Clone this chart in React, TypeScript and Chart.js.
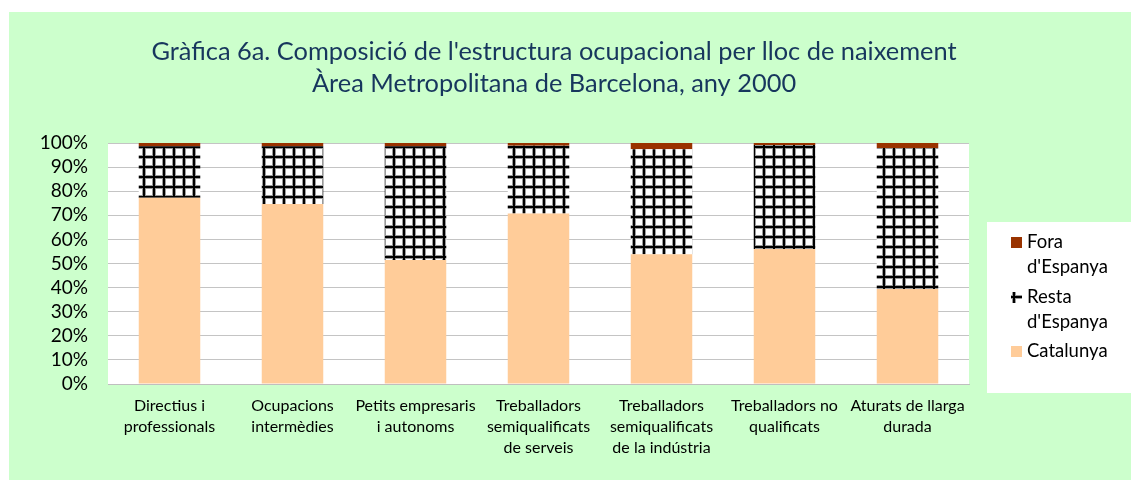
import React, { useEffect, useRef } from "react";
import { Chart, registerables } from "chart.js";

Chart.register(...registerables);

const categories: (string | string[])[] = [
  ["Directius i", "professionals"],
  ["Ocupacions", "intermèdies"],
  ["Petits empresaris", "i autonoms"],
  ["Treballadors", "semiqualificats", "de serveis"],
  ["Treballadors", "semiqualificats", "de la indústria"],
  ["Treballadors no", "qualificats"],
  ["Aturats de llarga", "durada"],
];
const catalunya = [77.3, 74.7, 51.5, 70.7, 53.8, 56.0, 39.4];
const restaEspanya = [21.3, 23.9, 47.1, 28.2, 43.6, 43.2, 58.5];
const foraEspanya = [1.4, 1.4, 1.4, 1.1, 2.6, 0.8, 2.1];
const titleLines = [
  "Gràfica 6a. Composició de l'estructura ocupacional per lloc de naixement",
  "Àrea Metropolitana de Barcelona, any 2000",
];
const legendItems = [
  { lines: ["Fora", "d'Espanya"], key: "fora" },
  { lines: ["Resta", "d'Espanya"], key: "resta" },
  { lines: ["Catalunya"], key: "cat" },
];

const FONT = "Lato, 'Open Sans', sans-serif";
const GREEN = "#CCFFCC";
const PEACH = "#FFCC99";
const BROWN = "#993300";
const TITLE_COLOR = "#17365D";

function makeGridPattern(): CanvasPattern | string {
  const c = document.createElement("canvas");
  c.width = 10;
  c.height = 10;
  const g = c.getContext("2d");
  if (!g) return "#000";
  g.fillStyle = "#ffffff";
  g.fillRect(0, 0, 10, 10);
  g.fillStyle = "#9a9a9a";
  g.fillRect(3, 0, 4, 10);
  g.fillRect(0, 3, 10, 4);
  g.fillStyle = "#000000";
  g.fillRect(4, 0, 2, 10);
  g.fillRect(0, 4, 10, 2);
  const p = document.createElement("canvas").getContext("2d")!.createPattern(c, "repeat");
  return p || "#000";
}

export default function App() {
  const ref = useRef<HTMLCanvasElement | null>(null);

  useEffect(() => {
    if (!ref.current) return;
    const pattern = makeGridPattern();

    const decor = {
      id: "decor",
      beforeDraw(chart: any) {
        const ctx = chart.ctx;
        const a = chart.chartArea;
        ctx.save();
        ctx.fillStyle = GREEN;
        ctx.fillRect(0, 0, chart.width, chart.height);
        ctx.fillStyle = "#ffffff";
        ctx.fillRect(a.left, a.top, a.right - a.left, a.bottom - a.top);
        ctx.restore();
      },
      afterDraw(chart: any) {
        const ctx = chart.ctx;
        ctx.save();
        ctx.fillStyle = TITLE_COLOR;
        ctx.font = `25.4px ${FONT}`;
        ctx.textAlign = "center";
        ctx.textBaseline = "middle";
        ctx.fillText(titleLines[0], 545, 40);
        ctx.fillText(titleLines[1], 545, 72);
        ctx.fillStyle = "#ffffff";
        ctx.fillRect(978, 210, 144, 171);
        ctx.font = `18.5px ${FONT}`;
        ctx.textAlign = "left";
        const starts = [230, 285, 339];
        legendItems.forEach((it, i) => {
          const y0 = starts[i];
          const sw = it.key === "fora" ? BROWN : it.key === "cat" ? PEACH : pattern;
          ctx.fillStyle = sw as any;
          ctx.fillRect(1002, y0 - 5, 11, 11);
          ctx.fillStyle = "#000000";
          it.lines.forEach((ln, j) => ctx.fillText(ln, 1018, y0 + j * 25));
        });
        ctx.restore();
      },
    };

    const chart = new Chart(ref.current, {
      type: "bar",
      data: {
        labels: categories,
        datasets: [
          { label: "Catalunya", data: catalunya, backgroundColor: PEACH, borderWidth: 0 },
          { label: "Resta d'Espanya", data: restaEspanya, backgroundColor: pattern as any, borderWidth: 0 },
          { label: "Fora d'Espanya", data: foraEspanya, backgroundColor: BROWN, borderWidth: 0 },
        ],
      },
      options: {
        animation: false,
        responsive: false,
        layout: { padding: { left: 0, top: 131, right: 162, bottom: 0 } },
        plugins: { legend: { display: false }, title: { display: false }, tooltip: { enabled: false } },
        datasets: { bar: { barPercentage: 1, categoryPercentage: 0.5 } },
        scales: {
          x: {
            stacked: true,
            grid: { display: false, drawTicks: false },
            border: { display: true, color: "#BFBFBF" },
            ticks: {
              autoSkip: false,
              maxRotation: 0,
              minRotation: 0,
              padding: 12,
              color: "#000000",
              font: { family: FONT, size: 16, lineHeight: 1.29 },
            },
            afterFit: (s: any) => {
              s.height = 96;
            },
          },
          y: {
            stacked: true,
            min: 0,
            max: 100,
            grid: { color: "#C4C4C4", lineWidth: 1, drawTicks: false },
            border: { display: false },
            ticks: {
              autoSkip: false,
              stepSize: 10,
              padding: 20,
              color: "#000000",
              font: { family: FONT, size: 19 },
              callback: (v: any) => `${v}%`,
            },
            afterFit: (s: any) => {
              s.width = 99;
            },
          },
        },
      },
      plugins: [decor],
    });
    return () => chart.destroy();
  }, []);

  return (
    <div style={{ position: "fixed", left: 9, top: 12, width: 1122, height: 468, background: GREEN }}>
      <canvas ref={ref} width={1122} height={468} style={{ display: "block" }} />
    </div>
  );
}
